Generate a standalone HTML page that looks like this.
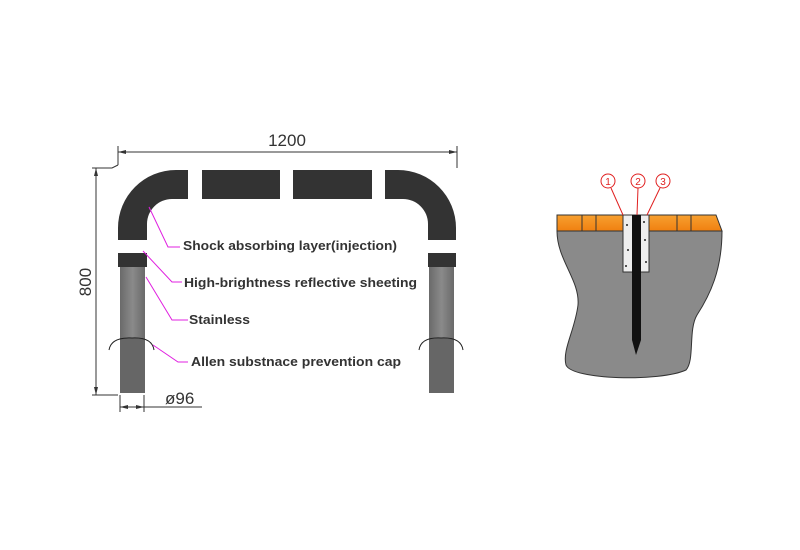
<!DOCTYPE html>
<html><head><meta charset="utf-8"><style>
html,body{margin:0;padding:0;background:#fff;width:800px;height:550px;overflow:hidden}
text{font-family:"Liberation Sans",sans-serif}
</style></head><body>
<svg width="800" height="550" viewBox="0 0 800 550" xmlns="http://www.w3.org/2000/svg">
<defs>
<linearGradient id="leg" x1="0" x2="1"><stop offset="0" stop-color="#6a6a6a"/><stop offset="0.5" stop-color="#8a8a8a"/><stop offset="1" stop-color="#6a6a6a"/></linearGradient>
<linearGradient id="or" x1="0" x2="0" y1="0" y2="1"><stop offset="0" stop-color="#f7a030"/><stop offset="1" stop-color="#f08010"/></linearGradient>
</defs>
<g stroke="#333" stroke-width="1" fill="none">
<line x1="118" y1="152" x2="457" y2="152"/>
<line x1="118" y1="146" x2="118" y2="165"/>
<line x1="457" y1="146" x2="457" y2="168"/>
<polyline points="118,165 112,168 92,168"/>
<line x1="96" y1="168" x2="96" y2="395"/>
<line x1="92" y1="395" x2="118" y2="395"/>
<line x1="120" y1="395" x2="120" y2="412"/>
<line x1="144" y1="395" x2="144" y2="412"/>
<line x1="120" y1="407" x2="202" y2="407"/>
</g>
<g fill="#333">
<polygon points="118,152 126,150 126,154"/><polygon points="457,152 449,150 449,154"/>
<polygon points="96,168 94,176 98,176"/><polygon points="96,395 94,387 98,387"/>
<polygon points="120,407 128,405 128,409"/><polygon points="144,407 136,405 136,409"/>
</g>
<text x="287" y="146" font-size="17" text-anchor="middle" fill="#333">1200</text>
<text x="0" y="0" font-size="17" text-anchor="middle" fill="#333" transform="translate(91,282) rotate(-90)">800</text>
<text x="165" y="404" font-size="17" fill="#333">ø96</text>
<path d="M118,267 L118,228 A58,58 0 0 1 176,170 L398,170 A58,58 0 0 1 456,228 L456,267 L428,267 L428,224 A25,25 0 0 0 403,199 L172,199 A25,25 0 0 0 147,224 L147,267 Z" fill="#333"/>
<g fill="#fff"><rect x="188" y="170" width="14" height="29"/><rect x="280" y="170" width="13" height="29"/><rect x="372" y="170" width="13" height="29"/>
<rect x="118" y="240" width="29" height="13"/><rect x="428" y="240" width="28" height="13"/></g>
<rect x="120" y="267" width="25" height="71" fill="url(#leg)"/>
<rect x="120" y="338" width="25" height="55" fill="#666"/>
<rect x="429" y="267" width="25" height="71" fill="url(#leg)"/>
<rect x="429" y="338" width="25" height="55" fill="#666"/>
<g stroke="#222" fill="none" stroke-width="1">
<path d="M109,350 Q111,337 132,338 Q152,337 154,350"/>
<path d="M419,350 Q421,337 441,338 Q461,337 463,350"/>
</g>
<g stroke="#e020e0" fill="none" stroke-width="1">
<polyline points="149,207 168,247 180,247"/>
<polyline points="143,251 172,282 182,282"/>
<polyline points="146,277 172,320 188,320"/>
<polyline points="153,345 178,362 188,362"/>
</g>
<g font-size="13" font-weight="bold" fill="#333" lengthAdjust="spacingAndGlyphs">
<text x="183" y="250" textLength="214" lengthAdjust="spacingAndGlyphs">Shock absorbing layer(injection)</text>
<text x="184" y="287" textLength="233" lengthAdjust="spacingAndGlyphs">High-brightness reflective sheeting</text>
<text x="189" y="324" textLength="61" lengthAdjust="spacingAndGlyphs">Stainless</text>
<text x="191" y="366" textLength="210" lengthAdjust="spacingAndGlyphs">Allen substnace  prevention cap</text>
</g>
<path d="M557,231 C557,260 580,280 578,305 C575,330 562,350 566,365 C572,380 660,382 686,370 C695,360 688,330 697,315 C710,295 722,270 722,231 Z" fill="#8a8a8a" stroke="#333"/>
<path d="M557,215 L716,215 L722,231 L557,231 Z" fill="url(#or)" stroke="#333"/>
<g stroke="#333"><line x1="582" y1="215" x2="582" y2="231"/><line x1="596" y1="215" x2="596" y2="231"/><line x1="677" y1="215" x2="677" y2="231"/><line x1="691" y1="215" x2="691" y2="231"/></g>
<rect x="623" y="215" width="26" height="57" fill="#eee" stroke="#333"/>
<path d="M632,215 L641,215 L641,340 L636,355 L632,340 Z" fill="#111"/>
<g fill="#222"><circle cx="627" cy="225" r="1"/><circle cx="645" cy="240" r="1"/><circle cx="628" cy="250" r="1"/><circle cx="646" cy="262" r="1"/><circle cx="626" cy="266" r="1"/><circle cx="644" cy="222" r="1"/></g>
<g stroke="#e02020" fill="none">
<circle cx="608" cy="181" r="7"/><circle cx="638" cy="181" r="7"/><circle cx="663" cy="181" r="7"/>
<line x1="611" y1="188" x2="623" y2="215"/><line x1="638" y1="188" x2="637" y2="215"/><line x1="660" y1="188" x2="647" y2="215"/>
</g>
<g font-size="10" fill="#e02020" text-anchor="middle"><text x="608" y="185">1</text><text x="638" y="185">2</text><text x="663" y="185">3</text></g>
</svg>
</body></html>
